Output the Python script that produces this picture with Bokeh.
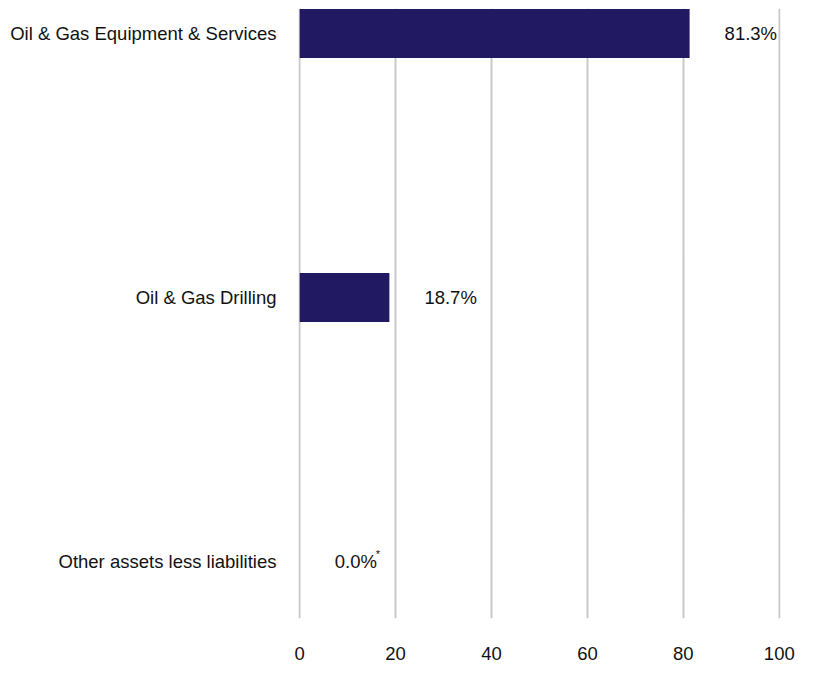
from bokeh.plotting import figure
from bokeh.models import ColumnDataSource, Range1d, FixedTicker
from bokeh.core.properties import value
from bokeh.embed import file_html
from bokeh.resources import INLINE

# Данні з картинки
categories = ["Oil & Gas Equipment & Services", "Oil & Gas Drilling", "Other assets less liabilities"]
values = [81.3, 18.7, 0.0]
value_labels = ["81.3%", "18.7%", "0.0%"]
x_ticks = [0, 20, 40, 60, 80, 100]

FONT = "Liberation Sans"
FONT_SIZE = "18.5px"
BAR_COLOR = "#211a63"
TEXT_COLOR = "#111111"

positions = list(range(len(categories)))
source = ColumnDataSource(dict(y=positions, value=values, label=value_labels))

p = figure(width=808, height=674, output_backend="svg", toolbar_location=None, tools="",
           x_range=Range1d(-0.25, 100.25), y_range=Range1d(2.216, -0.095),
           min_border_left=298, min_border_right=28, min_border_top=8, min_border_bottom=56)

p.hbar(y="y", right="value", left=0, height=0.186, source=source,
       fill_color=BAR_COLOR, line_color=None)

p.text(x="value", y="y", text="label", source=source, x_offset=35,
       text_align="left", text_baseline="middle", text_font=value(FONT),
       text_font_size=FONT_SIZE, text_color=TEXT_COLOR)

# зірочка біля 0.0%
p.text(x=[values[2]], y=[positions[2]], text=["*"], x_offset=76, y_offset=-13,
       text_align="left", text_baseline="top", text_font=value(FONT),
       text_font_size="11px", text_color=TEXT_COLOR)

p.outline_line_color = None
p.ygrid.grid_line_color = None
p.xgrid.grid_line_color = "#c8c8c8"
p.xgrid.grid_line_width = 2

p.xaxis.ticker = FixedTicker(ticks=x_ticks)
p.xaxis.axis_line_color = None
p.xaxis.major_tick_line_color = None
p.xaxis.minor_tick_line_color = None
p.xaxis.major_label_standoff = 22
p.xaxis.major_label_text_font = FONT
p.xaxis.major_label_text_font_size = FONT_SIZE
p.xaxis.major_label_text_color = TEXT_COLOR

p.yaxis.ticker = FixedTicker(ticks=positions)
p.yaxis.major_label_overrides = {i: c for i, c in zip(positions, categories)}
p.yaxis.axis_line_color = None
p.yaxis.major_tick_line_color = None
p.yaxis.minor_tick_line_color = None
p.yaxis.major_label_standoff = 16
p.yaxis.major_label_text_font = FONT
p.yaxis.major_label_text_font_size = FONT_SIZE
p.yaxis.major_label_text_color = TEXT_COLOR

open("out.html", "w").write(file_html(p, INLINE))
